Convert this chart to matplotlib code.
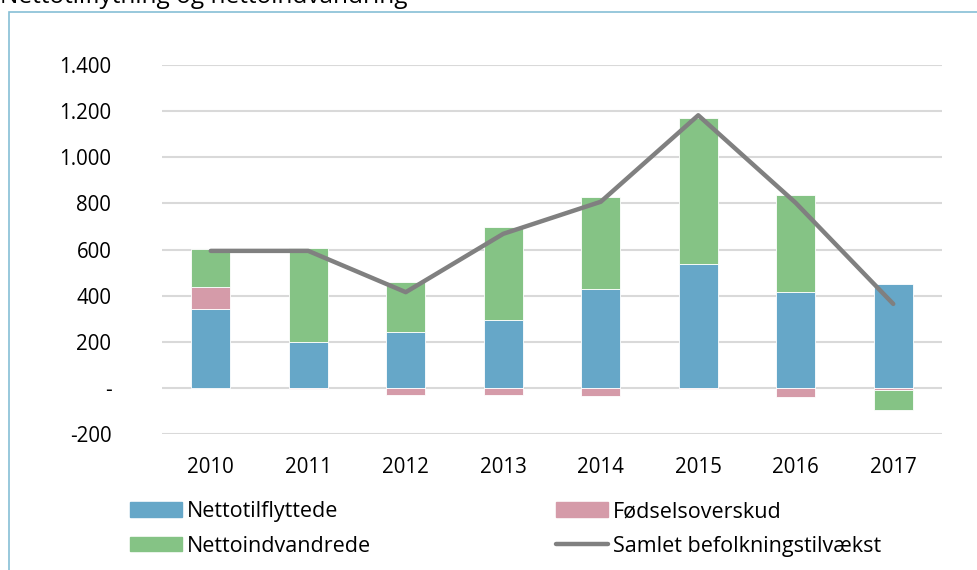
import matplotlib

matplotlib.use("Agg")
import matplotlib.pyplot as plt
import numpy as np
from matplotlib.patches import Rectangle
from matplotlib.lines import Line2D
from matplotlib.ticker import FuncFormatter

years = ["2010", "2011", "2012", "2013", "2014", "2015", "2016", "2017"]
nettotilflyttede = [344, 199, 244, 296, 428, 536, 415, 450]
foedselsoverskud = [92, -6, -33, -33, -36, -3, -40, -8]
nettoindvandrede = [168, 408, 217, 402, 398, 633, 420, -87]
samlet = [594, 594, 415, 668, 807, 1182, 802, 364]

colors = ["#66a7c8", "#d59ba9", "#85c385"]
line_color = "#808080"

plt.rcParams["font.family"] = ["Open Sans", "DejaVu Sans"]

fig = plt.figure(figsize=(9.78, 5.70), dpi=100)
ax = fig.add_axes([162 / 978, 1 - 434 / 570, (942 - 162) / 978, (434 - 65) / 570])

x = np.arange(len(years))
pos_base = np.zeros(len(years))
neg_base = np.zeros(len(years))
for vals, color in zip([nettotilflyttede, foedselsoverskud, nettoindvandrede], colors):
    v = np.array(vals, dtype=float)
    bottom = np.where(v >= 0, pos_base, neg_base)
    ax.bar(x, v, width=0.4, bottom=bottom, color=color, edgecolor="white",
           linewidth=0.6, zorder=3)
    pos_base += np.clip(v, 0, None)
    neg_base += np.clip(v, None, 0)

ax.plot(x, samlet, color=line_color, linewidth=3.2, solid_capstyle="round", zorder=4)

ax.set_xlim(-0.5, len(years) - 0.5)
ax.set_ylim(-200, 1400)
ax.set_yticks(range(-200, 1401, 200))


def fmt(v, _):
    if v == 0:
        return "-"
    return f"{int(v):,}".replace(",", ".")


ax.yaxis.set_major_formatter(FuncFormatter(fmt))
ax.set_xticks(x)
ax.set_xticklabels(years)
ax.grid(axis="y", color="#d9d9d9", linewidth=1.5, zorder=0)
for s in ax.spines.values():
    s.set_visible(False)
ax.tick_params(axis="both", length=0, labelsize=14.8, colors="#000000")
ax.tick_params(axis="y", pad=36.5)
ax.tick_params(axis="x", pad=16.5)
for lab in ax.get_yticklabels():
    lab.set_horizontalalignment("right")

# frame and (cropped) title
fig.patches.append(Rectangle((9 / 978, -0.1), 1.2, 1 - 12 / 570 + 0.1,
                             transform=fig.transFigure, fill=False,
                             edgecolor="#86bfd5", linewidth=1.2))
fig.text(0.0, 1 - 3 / 570, "Nettotilflytning og nettoindvandring",
         fontsize=17.6, va="baseline", ha="left")

handles = [
    Rectangle((0, 0), 1, 1, color=colors[0]),
    Rectangle((0, 0), 1, 1, color=colors[2]),
    Rectangle((0, 0), 1, 1, color=colors[1]),
    Line2D([0], [0], color=line_color, linewidth=3.2, solid_capstyle="round"),
]
labels = ["Nettotilflyttede", "Nettoindvandrede", "Fødselsoverskud", "Samlet befolkningstilvækst"]
fig.legend(handles, labels,
           ncol=2, loc="upper left", bbox_to_anchor=(130 / 978, 1 - 501 / 570),
           frameon=False, fontsize=15.5, handlelength=2.42, handleheight=0.65,
           handletextpad=0.23, columnspacing=8.6, labelspacing=0.63,
           borderaxespad=0, borderpad=0)

fig.savefig("out.png", dpi=100)
